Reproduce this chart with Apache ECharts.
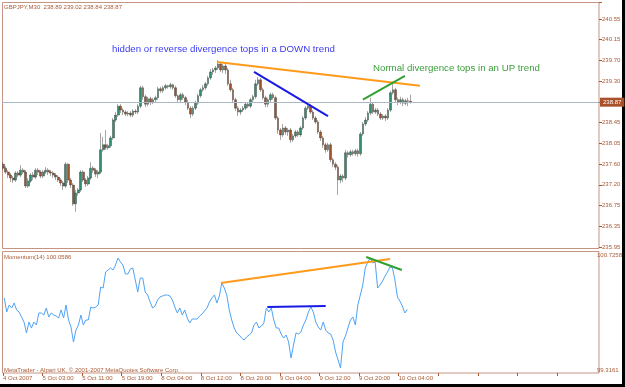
<!DOCTYPE html>
<html>
<head>
<meta charset="utf-8">
<script src="https://cdn.jsdelivr.net/npm/echarts@6.0.0/dist/echarts.min.js"></script>
<style>
  html, body { margin: 0; padding: 0; background: #ffffff; }
  #chart { width: 625px; height: 387px; }
</style>
</head>
<body>
<div id="chart"></div>
<script>
// GBPJPY M30, 4 Oct 2007 19:00 .. 10 Oct 2007
const firstOpen = 237.62;
const closes = [
  237.54, 237.46, 237.40, 237.34, 237.30, 237.44, 237.40, 237.50, 237.46, 237.18,
  237.28, 237.40, 237.36, 237.50, 237.46, 237.38, 237.46, 237.50, 237.46, 237.44,
  237.40, 237.36, 237.30, 237.24, 237.18, 237.62, 237.30, 237.20, 236.82, 237.04,
  237.10, 237.46, 237.30, 237.22, 237.34, 237.54, 237.50, 237.42, 237.46, 237.91,
  238.01, 237.95, 237.99, 238.15, 238.51, 238.61, 238.79, 238.71, 238.67, 238.63,
  238.65, 238.61, 238.69, 238.67, 238.79, 239.16, 238.98, 238.83, 238.94, 238.87,
  238.92, 238.96, 239.14, 239.10, 239.16, 239.20, 239.18, 239.22, 239.16, 239.00,
  238.92, 239.02, 238.96, 238.87, 238.75, 238.63, 238.75, 238.85, 239.00, 239.12,
  239.16, 239.24, 239.36, 239.48, 239.52, 239.56, 239.64, 239.52, 239.60, 239.52,
  239.24, 239.12, 238.92, 238.75, 238.67, 238.71, 238.75, 238.83, 238.79, 238.92,
  238.98, 239.24, 239.32, 239.12, 238.96, 238.83, 238.92, 239.02, 238.96, 238.55,
  238.31, 238.21, 238.35, 238.27, 238.31, 238.11, 238.19, 238.27, 238.21, 238.35,
  238.55, 238.75, 238.79, 238.67, 238.55, 238.47, 238.27, 238.15, 238.01, 237.91,
  238.01, 237.71, 237.62, 237.56, 237.30, 237.38, 237.34, 237.85, 237.81, 237.87,
  237.83, 237.89, 237.83, 238.23, 238.43, 238.51, 238.65, 238.83, 238.67, 238.71,
  238.63, 238.55, 238.59, 238.55, 238.71, 239.06, 239.12, 238.92, 238.87, 238.92,
  238.85, 238.90, 238.89, 238.87
];
const highs = [
  237.66, 237.58, 237.50, 237.44, 237.38, 237.48, 237.48, 237.60, 237.54, 237.50,
  237.34, 237.44, 237.46, 237.54, 237.54, 237.50, 237.50, 237.56, 237.54, 237.50,
  237.48, 237.44, 237.40, 237.34, 237.28, 237.66, 237.64, 237.34, 237.24, 237.10,
  237.14, 237.50, 237.50, 237.34, 237.38, 237.66, 237.58, 237.54, 237.50, 238.25,
  238.17, 238.31, 238.03, 238.19, 238.55, 238.67, 238.83, 238.83, 238.75, 238.71,
  238.69, 238.69, 238.73, 238.73, 238.83, 239.20, 239.20, 239.02, 238.98, 238.98,
  238.96, 239.00, 239.18, 239.18, 239.20, 239.24, 239.22, 239.26, 239.24, 239.20,
  239.02, 239.06, 239.06, 239.00, 238.92, 238.79, 238.79, 238.90, 239.04, 239.16,
  239.22, 239.28, 239.40, 239.54, 239.56, 239.60, 239.72, 239.68, 239.64, 239.64,
  239.56, 239.32, 239.16, 238.96, 238.79, 238.75, 238.79, 238.87, 238.87, 238.96,
  239.02, 239.32, 239.38, 239.36, 239.16, 239.00, 238.96, 239.06, 239.06, 239.00,
  238.59, 238.35, 238.43, 238.39, 238.35, 238.35, 238.23, 238.31, 238.31, 238.39,
  238.59, 238.79, 238.85, 238.83, 238.71, 238.59, 238.51, 238.31, 238.19, 238.05,
  238.05, 238.05, 237.75, 237.66, 237.60, 237.42, 237.42, 237.91, 237.89, 237.91,
  237.91, 237.93, 237.93, 238.27, 238.47, 238.57, 238.69, 238.96, 238.87, 238.75,
  238.75, 238.67, 238.63, 238.63, 238.75, 239.10, 239.28, 239.16, 238.96, 238.98,
  238.96, 238.94, 238.96, 239.02
];
const lows = [
  237.50, 237.42, 237.34, 237.26, 237.24, 237.26, 237.36, 237.36, 237.42, 237.14,
  237.14, 237.24, 237.30, 237.32, 237.40, 237.34, 237.34, 237.42, 237.40, 237.38,
  237.34, 237.30, 237.26, 237.18, 237.10, 237.14, 237.24, 237.14, 236.78, 236.66,
  236.98, 237.06, 237.26, 237.16, 237.18, 237.30, 237.44, 237.36, 237.34, 237.42,
  237.87, 237.91, 237.91, 237.95, 238.11, 238.47, 238.57, 238.65, 238.61, 238.59,
  238.59, 238.57, 238.57, 238.63, 238.63, 238.75, 238.92, 238.77, 238.79, 238.81,
  238.83, 238.87, 238.92, 239.06, 239.06, 239.12, 239.14, 239.14, 239.12, 238.96,
  238.87, 238.85, 238.92, 238.81, 238.71, 238.55, 238.59, 238.71, 238.81, 238.96,
  239.08, 239.12, 239.20, 239.32, 239.42, 239.46, 239.52, 239.48, 239.46, 239.44,
  239.20, 239.08, 238.85, 238.69, 238.59, 238.61, 238.67, 238.71, 238.75, 238.75,
  238.87, 238.94, 239.20, 239.08, 238.92, 238.77, 238.77, 238.87, 238.92, 238.51,
  238.23, 238.11, 238.17, 238.21, 238.19, 238.05, 238.07, 238.15, 238.17, 238.17,
  238.31, 238.51, 238.71, 238.63, 238.51, 238.43, 238.23, 238.09, 237.95, 237.85,
  237.87, 237.66, 237.56, 237.50, 237.00, 237.24, 237.26, 237.30, 237.75, 237.77,
  237.79, 237.79, 237.77, 237.79, 238.19, 238.39, 238.47, 238.61, 238.63, 238.63,
  238.59, 238.51, 238.51, 238.49, 238.51, 238.67, 239.02, 238.87, 238.81, 238.83,
  238.79, 238.81, 238.79, 238.84
];
// Momentum(14)
const momentum = [
  100.199, 100.027, 100.113, 100.076, 100.137, 100.052, 100.027, 99.966, 99.904, 99.770,
  99.904, 99.831, 99.904, 99.868, 100.015, 100.015, 99.990, 100.076, 99.966, 100.015,
  99.990, 99.978, 99.954, 100.052, 99.954, 100.113, 99.929, 99.843, 99.659, 99.806,
  99.868, 99.990, 99.868, 99.929, 99.929, 100.088, 100.076, 100.088, 100.113, 100.333,
  100.321, 100.517, 100.542, 100.566, 100.542, 100.603, 100.689, 100.640, 100.603, 100.493,
  100.493, 100.554, 100.566, 100.419, 100.272, 100.444, 100.444, 100.272, 100.235, 100.150,
  100.076, 100.101, 100.174, 100.211, 100.223, 100.235, 100.235, 100.223, 100.174, 100.088,
  100.015, 100.076, 99.990, 100.052, 99.954, 99.892, 99.941, 99.941, 99.941, 99.978,
  100.003, 100.039, 100.076, 100.150, 100.199, 100.235, 100.137, 100.223, 100.383, 100.321,
  100.235, 100.052, 99.929, 99.831, 99.770, 99.745, 99.708, 99.684, 99.721, 99.745,
  99.770, 99.868, 99.904, 99.831, 99.855, 99.892, 100.076, 100.027, 100.076, 99.929,
  99.831, 99.831, 99.757, 99.708, 99.745, 99.659, 99.463, 99.623, 99.770, 99.757,
  99.782, 99.868, 99.929, 100.027, 100.088, 100.027, 99.904, 99.843, 99.806, 99.904,
  99.806, 99.770, 99.757, 99.684, 99.537, 99.439, 99.341, 99.659, 99.733, 99.831,
  99.929, 99.966, 99.868, 100.113, 100.235, 100.358, 100.566, 100.640, 100.689, 100.628,
  100.640, 100.321, 100.358, 100.407, 100.468, 100.517, 100.579, 100.566, 100.419, 100.211,
  100.162, 100.101, 100.015, 100.0586
];

const timeLabels = ['4 Oct 2007', '5 Oct 03:00', '5 Oct 11:00', '5 Oct 19:00', '8 Oct 04:00',
  '8 Oct 12:00', '8 Oct 20:00', '9 Oct 04:00', '9 Oct 12:00', '9 Oct 20:00', '10 Oct 04:00'];
const priceLabels = ['235.95', '236.35', '236.75', '237.20', '237.60', '238.05', '238.45',
  '', '239.30', '239.70', '240.15', '240.55'];
const momLabels = ['99.3161', '100.7258'];
const lastPrice = 238.87;

// hand-drawn trend lines: [bar position, value]
const priceOrange = [[85.6, 239.68], [166.8, 239.20]];
const priceBlue = [[100.4, 239.48], [130.0, 238.59]];
const priceGreen = [[144.0, 238.92], [160.8, 239.40]];
const momOrange = [[87.6, 100.383], [156.0, 100.677]];
const momBlue = [[106.4, 100.088], [130.0, 100.101]];
const momGreen = [[146.4, 100.701], [160.8, 100.542]];

const SLOTS = 239;               // chart is shifted: empty space right of last bar
const slots = [];
for (let i = 0; i < SLOTS; i++) slots.push(String(i));
const barsPerLabel = 16;          // one time label every 8 hours

const candles = closes.map((c, i) => {
  const o = i === 0 ? firstOpen : closes[i - 1];
  return [o, c, Math.min(lows[i], o, c), Math.max(highs[i], o, c)];
});

const TXT = '#a85a35';
const FRAME = '#c59483';
const FONT = 'Liberation Sans';

const chart = echarts.init(document.getElementById('chart'));

const trend = (data, xi, yi, color) => ({
  type: 'line', data, xAxisIndex: xi, yAxisIndex: yi, symbol: 'none', silent: true,
  lineStyle: { color, width: 2 }, z: 5
});

chart.setOption({
  animation: false,
  backgroundColor: '#ffffff',
  grid: [
    { left: 2, right: 26, top: 2, height: 245 },
    { left: 2, right: 26, top: 255, height: 115 }
  ],
  xAxis: [
    { type: 'category', gridIndex: 0, data: slots, show: false },
    { type: 'category', gridIndex: 1, data: slots, show: false },
    { type: 'value', gridIndex: 0, position: 'bottom', min: -0.5, max: SLOTS - 0.5, show: false },
    {
      // time scale: ticks at bar boundaries every 16 bars
      type: 'value', gridIndex: 1, position: 'bottom', min: -0.5, max: SLOTS - 0.5,
      interval: barsPerLabel, offset: 3,
      axisLine: { show: false, onZero: false },
      axisTick: { show: true, length: 3, lineStyle: { color: TXT } },
      axisLabel: {
        formatter: (v, i) => timeLabels[i] || '', showMaxLabel: false,
        align: 'left', fontSize: 6, fontFamily: FONT, color: TXT, margin: 2
      },
      splitLine: { show: false }
    }
  ],
  yAxis: [
    {
      type: 'value', gridIndex: 0, position: 'right', min: 235.95, max: 240.89,
      interval: (240.55 - 235.95) / 11,
      axisLine: { show: false, onZero: false },
      axisTick: { show: true, length: 3, lineStyle: { color: TXT } },
      axisLabel: { formatter: (v, i) => priceLabels[i] || '', fontSize: 6, fontFamily: FONT, color: TXT, margin: 3 },
      splitLine: { show: false }
    },
    {
      type: 'value', gridIndex: 1, position: 'right', min: 99.3161, max: 100.7258,
      interval: 100.7258 - 99.3161,
      axisLine: { show: false, onZero: false },
      axisTick: { show: false },
      axisLabel: { formatter: (v, i) => momLabels[i] || '', fontSize: 6, fontFamily: FONT, color: TXT, margin: 3 },
      splitLine: { show: false }
    }
  ],
  series: [
    {
      type: 'candlestick', xAxisIndex: 0, yAxisIndex: 0, data: candles, barWidth: 2.2,
      itemStyle: { color: '#2f8f70', color0: '#a0522d', borderColor: '#3a3a3a', borderColor0: '#3a3a3a', borderWidth: 0.45 },
      markLine: {
        silent: true, symbol: 'none', animation: false,
        lineStyle: { color: '#a9b7c6', width: 1, type: 'solid' },
        label: {
          position: 'end', distance: 1, formatter: lastPrice.toFixed(2), color: '#ffffff',
          backgroundColor: '#a8512a', padding: [2, 3, 1, 3], fontSize: 6, fontFamily: FONT
        },
        data: [{ yAxis: lastPrice }]
      },
      z: 3
    },
    {
      type: 'line', xAxisIndex: 1, yAxisIndex: 1, data: momentum, symbol: 'none', silent: true,
      lineStyle: { color: '#4fa3f7', width: 1 }
    },
    trend(priceOrange, 2, 0, '#ff9a1a'),
    trend(priceBlue, 2, 0, '#1a1ae6'),
    trend(priceGreen, 2, 0, '#33a033'),
    trend(momOrange, 3, 1, '#ff9a1a'),
    trend(momBlue, 3, 1, '#1a1ae6'),
    trend(momGreen, 3, 1, '#33a033')
  ],
  graphic: [
    { type: 'rect', silent: true, z: 0, shape: { x: 2.5, y: 2.5, width: 596.5, height: 246 },
      style: { fill: 'none', stroke: FRAME, lineWidth: 1 } },
    { type: 'rect', silent: true, z: 0, shape: { x: 2.5, y: 251.5, width: 596.5, height: 121.5 },
      style: { fill: 'none', stroke: FRAME, lineWidth: 1 } },
    { type: 'text', left: 4, top: 4, style: { text: 'GBPJPY,M30  238.89 239.02 238.84 238.87', fill: TXT, font: '6px "Liberation Sans"' } },
    { type: 'text', left: 112, top: 44, style: { text: 'hidden or reverse divergence tops in a DOWN trend', fill: '#3c3cf0', font: '9.7px "Liberation Sans"' } },
    { type: 'text', left: 373, top: 63, style: { text: 'Normal divergence tops in an UP trend', fill: '#3ca03c', font: '9.7px "Liberation Sans"' } },
    { type: 'text', left: 4, top: 254, style: { text: 'Momentum(14) 100.0586', fill: TXT, font: '6px "Liberation Sans"' } },
    { type: 'text', left: 4, top: 367, style: { text: 'MetaTrader - Alpari UK, \u00a9 2001-2007 MetaQuotes Software Corp.', fill: TXT, font: '6px "Liberation Sans"' } },
    { type: 'rect', silent: true, shape: { x: 622, y: 0, width: 3, height: 387 }, style: { fill: '#000000' } },
    { type: 'rect', silent: true, shape: { x: 0, y: 384, width: 625, height: 3 }, style: { fill: '#000000' } }
  ]
});
</script>
</body>
</html>
